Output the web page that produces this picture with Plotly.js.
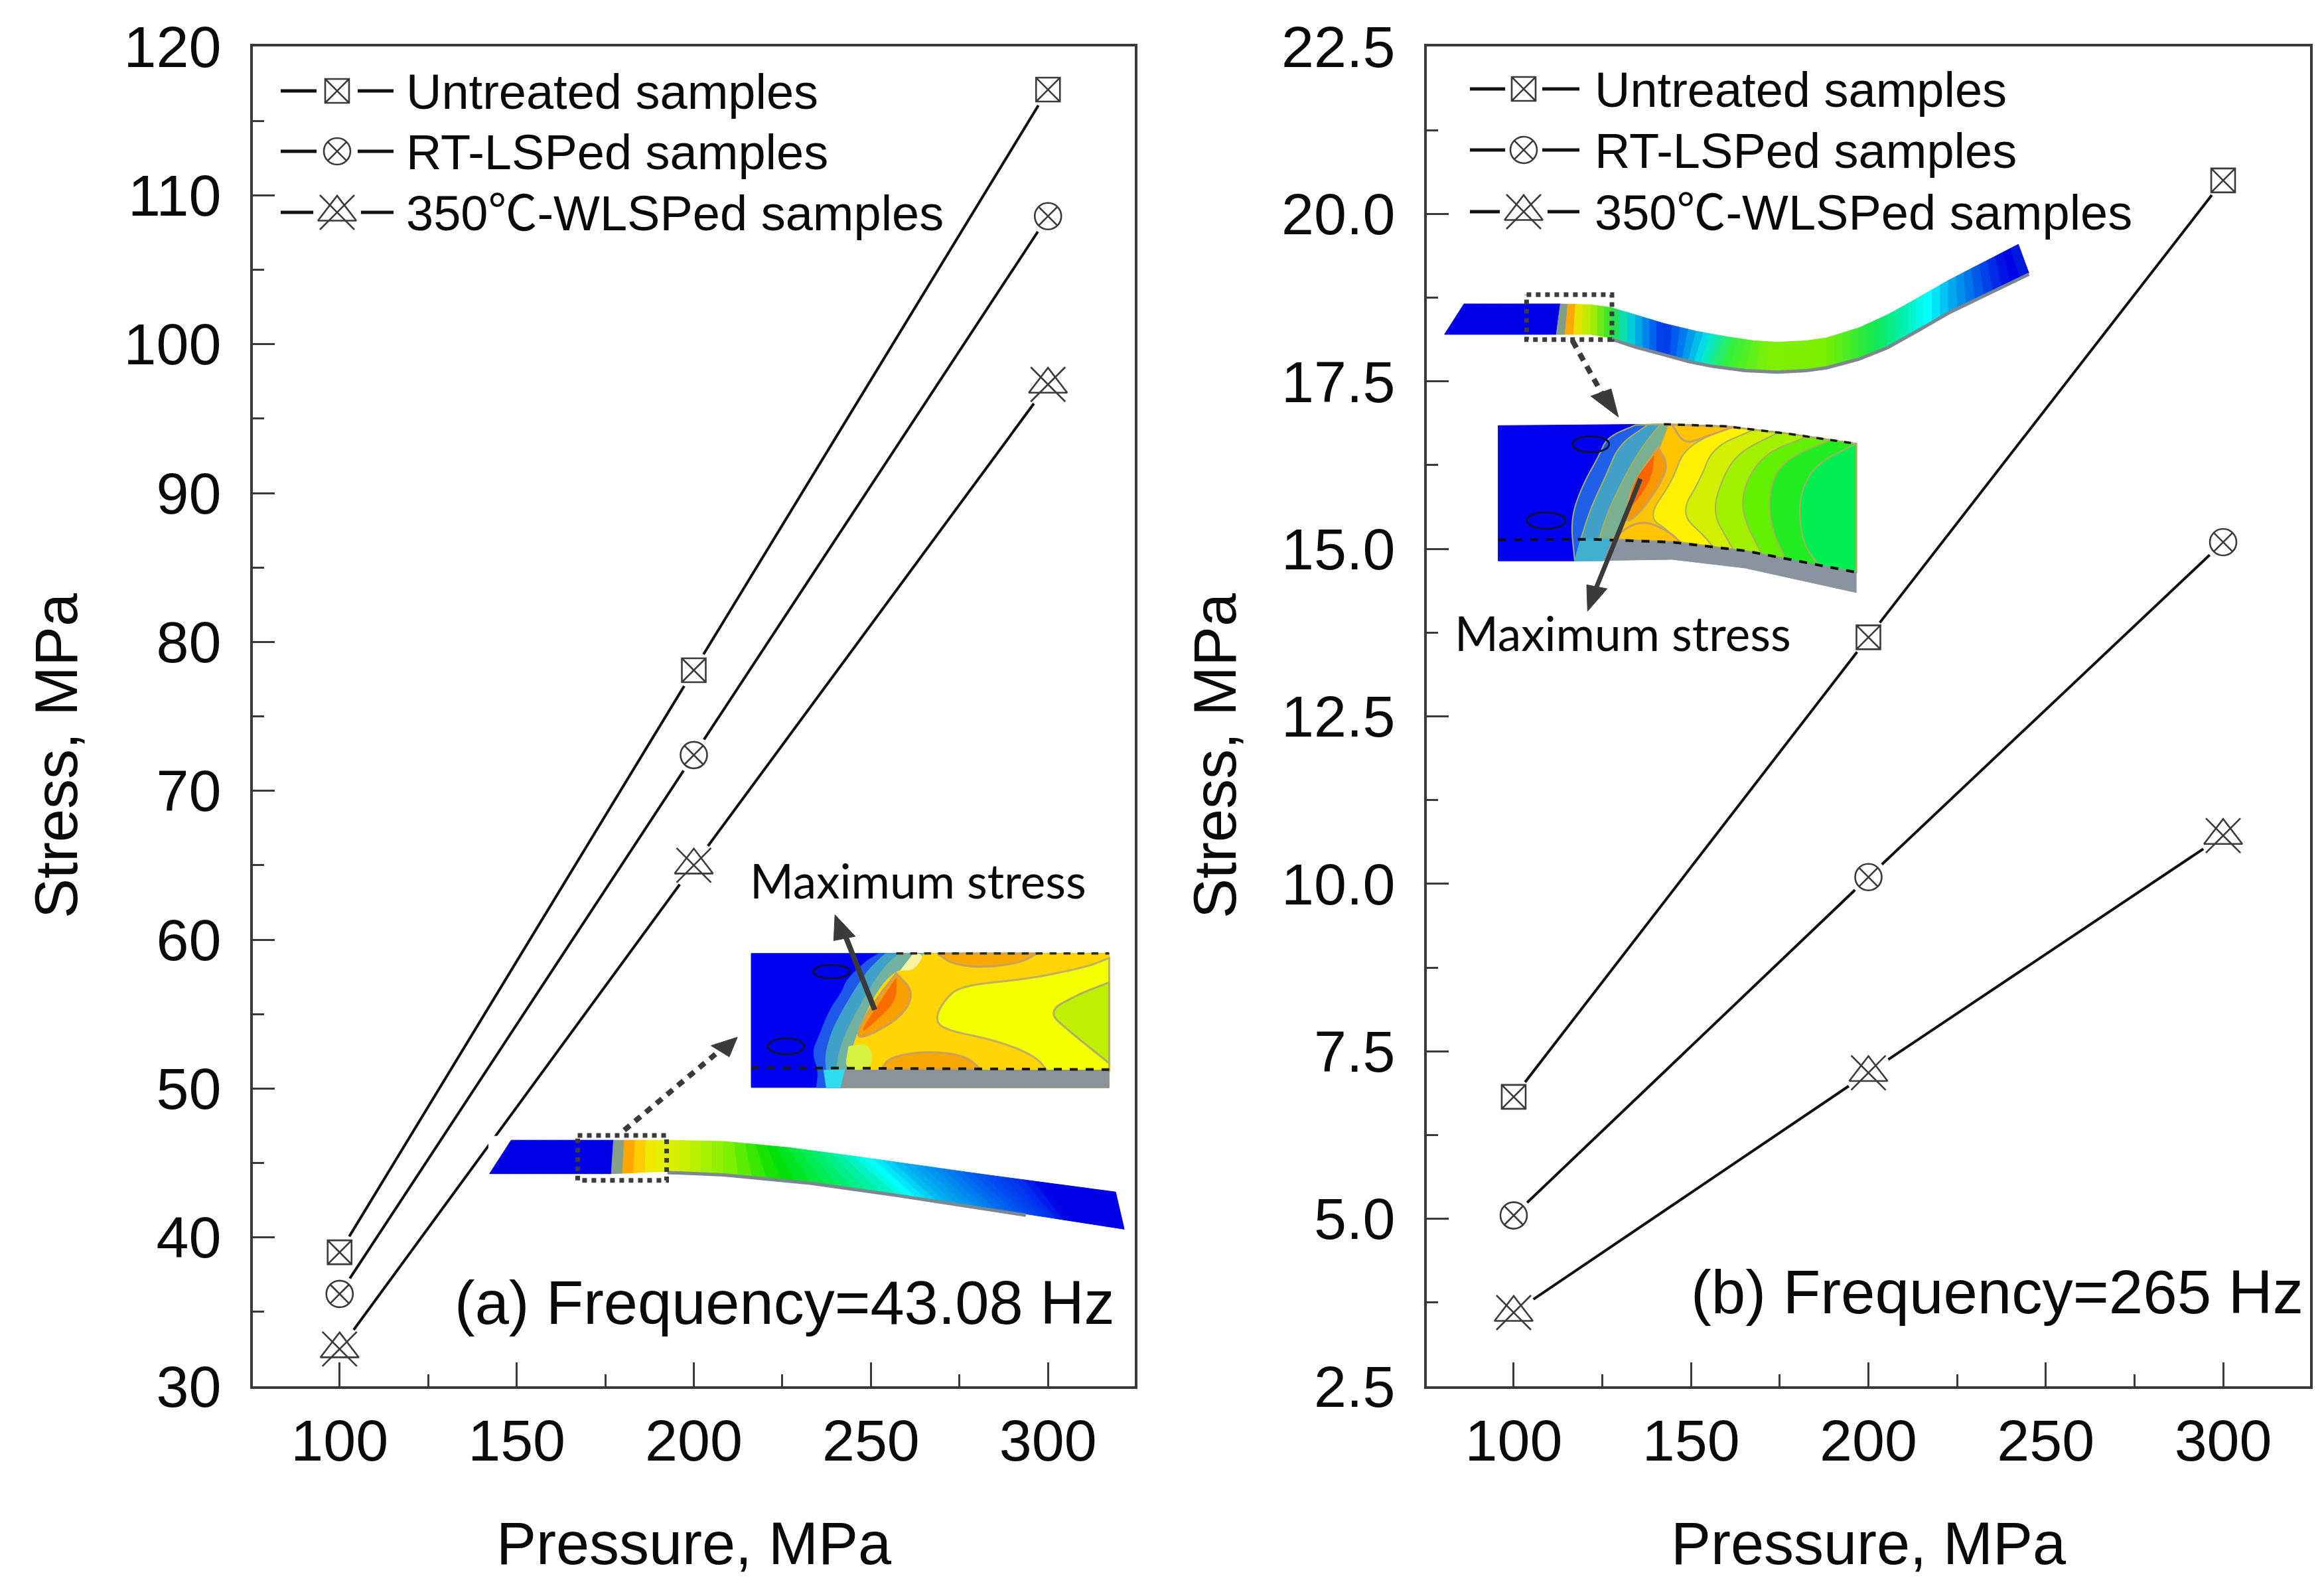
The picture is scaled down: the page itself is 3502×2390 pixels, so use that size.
<!DOCTYPE html>
<html>
<head>
<meta charset="utf-8">
<script src="https://cdn.plot.ly/plotly-3.0.1.min.js"></script>
<style>body{margin:0;background:#fff}</style>
</head>
<body>
<div id="chart"></div>
<script>
const W = 3502, H = 2390;

// values
const pressure = [100, 200, 300];
const untreatedA = [39.0, 78.1, 117.1];
const rtLspA = [36.2, 72.4, 108.6];
const wlspA = [32.5, 65.0, 97.3];
const untreatedB = [6.82, 13.68, 20.5];
const rtLspB = [5.05, 10.1, 15.1];
const wlspB = [3.6, 7.18, 10.72];
const seriesNames = ['Untreated samples', 'RT-LSPed samples', '350℃-WLSPed samples'];

const FONT = "'Liberation Sans','Noto Sans CJK SC',sans-serif";
const INK = '#3a3a3a';
const BLUE = '#0000e6';

var traces = [];
var shapes = [];
var notes = [];

// line first, then a white disc for the gap, then the symbol on top
function addSeries(xa, ya, y) {
    traces.push({x: pressure, y: y, xaxis: xa, yaxis: ya, showlegend: false, hoverinfo: 'skip',
        mode: 'lines', line: {color: '#111', width: 4}});
}
function addSymbols(xa, ya, x, y, kind) {
    let base = {x: x, y: y, xaxis: xa, yaxis: ya, mode: 'markers', showlegend: false, hoverinfo: 'skip'};
    let edge = {color: INK, width: 2.6};
    let disc = kind == 2 ? 72 : 56;
    traces.push(Object.assign({}, base, {marker: {symbol: 'circle', size: disc, color: '#fff'}}));
    if (kind == 0) {
        traces.push(Object.assign({}, base, {marker: {symbol: 'square-x-open', size: 36, line: edge, color: INK}}));
    } else if (kind == 1) {
        traces.push(Object.assign({}, base, {marker: {symbol: 'circle-x-open', size: 40, line: edge, color: INK}}));
    } else {
        traces.push(Object.assign({}, base, {marker: {symbol: 'triangle-up-open', size: 50, line: edge, color: INK}}));
        traces.push(Object.assign({}, base, {marker: {symbol: 'x-thin-open', size: 52, line: edge, color: INK}}));
    }
}

[[untreatedA, 0], [rtLspA, 1], [wlspA, 2]].forEach(d => addSeries('x', 'y', d[0]));
[[untreatedB, 0], [rtLspB, 1], [wlspB, 2]].forEach(d => addSeries('x2', 'y2', d[0]));
[[untreatedA, 0], [rtLspA, 1], [wlspA, 2]].forEach(d => addSymbols('x', 'y', pressure, d[0], d[1]));
[[untreatedB, 0], [rtLspB, 1], [wlspB, 2]].forEach(d => addSymbols('x2', 'y2', pressure, d[0], d[1]));

function pageText(x, y, text, size, anchor, family, angle) {
    return {x: x, y: y, xref: 'x3', yref: 'y3', text: text, showarrow: false, xanchor: anchor, yanchor: 'middle',
        textangle: angle || 0, font: {family: family || FONT, size: size, color: '#0a0a0a'}};
}
// legend keys live on a hidden page sized axis pair
function legendKeys(x0, x1, x2, x3, xm, xt, ys) {
    ys.forEach((yy, i) => {
        traces.push({x: [x0, x1, null, x2, x3], y: [yy, yy, null, yy, yy], xaxis: 'x3', yaxis: 'y3',
            mode: 'lines', line: {color: '#111', width: 5}, showlegend: false, hoverinfo: 'skip'});
        addSymbols('x3', 'y3', [xm], [yy], i);
        notes.push(pageText(xt, yy + 1, seriesNames[i], 74, 'left'));
    });
}
legendKeys(423, 477, 539, 593, 508, 610, [137, 228, 320]);
legendKeys(2215, 2271, 2324, 2380, 2296, 2401, [134, 226, 319]);

notes.push(pageText(85, 1139, 'Stress, MPa', 90, 'center', FONT, -90));
notes.push(pageText(1831, 1139, 'Stress, MPa', 90, 'center', FONT, -90));
notes.push(pageText(683, 1963, '(a) Frequency=43.08 Hz', 92, 'left'));
notes.push(pageText(2546, 1947, '(b) Frequency=265 Hz', 92.5, 'left'));
notes.push(pageText(1128, 1326, 'Maximum stress', 71, 'left', 'Lato'));
notes.push(pageText(2190, 953, 'Maximum stress', 71, 'left', 'Lato'));

// --- FE contour insets, sketched with shapes. Coordinates are in crop space, the mapper takes them to the page
function mapper(ox, oy, sx, sy) {
    return p => [ox + p[0] / sx, oy + p[1] / sy];
}
function pathOf(map, pts) {
    return pts.map((p, i) => {
        let q = map(p);
        return (i ? 'L' : 'M') + q[0].toFixed(1) + ',' + q[1].toFixed(1);
    }).join(' ');
}
// corner cutting, keeps the end points of the run
function smooth(pts) {
    let out = pts;
    for (let r = 0; r < 3; r++) {
        let next = [out[0]];
        for (let i = 0; i < out.length - 1; i++) {
            let a = out[i], b = out[i + 1];
            next.push([a[0] * 0.75 + b[0] * 0.25, a[1] * 0.75 + b[1] * 0.25]);
            next.push([a[0] * 0.25 + b[0] * 0.75, a[1] * 0.25 + b[1] * 0.75]);
        }
        next.push(out[out.length - 1]);
        out = next;
    }
    return out;
}
function poly(map, pts, fill, lineColor, lineWidth) {
    shapes.push({type: 'path', xref: 'x3', yref: 'y3', layer: 'above', path: pathOf(map, pts) + ' Z', fillcolor: fill,
        line: {color: lineColor || fill, width: lineWidth === undefined ? 1 : lineWidth}});
}
function polyline(map, pts, color, width, dash) {
    shapes.push({type: 'path', xref: 'x3', yref: 'y3', layer: 'above', path: pathOf(map, pts),
        line: {color: color, width: width, dash: dash || 'solid'}});
}
function ring(map, c, rx, ry) {
    let a = map([c[0] - rx, c[1] - ry]), b = map([c[0] + rx, c[1] + ry]);
    shapes.push({type: 'circle', xref: 'x3', yref: 'y3', layer: 'above', x0: a[0], y0: a[1], x1: b[0], y1: b[1],
        line: {color: '#101040', width: 3}});
}
function hexToRgb(h) {
    return [parseInt(h.substr(1, 2), 16), parseInt(h.substr(3, 2), 16), parseInt(h.substr(5, 2), 16)];
}
function stopColor(stops, x) {
    if (x <= stops[0][0]) return stops[0][1];
    for (let i = 1; i < stops.length; i++) {
        if (x <= stops[i][0]) {
            let f = (x - stops[i - 1][0]) / (stops[i][0] - stops[i - 1][0]);
            let a = hexToRgb(stops[i - 1][1]), b = hexToRgb(stops[i][1]);
            return 'rgb(' + a.map((v, k) => Math.round(v + (b[k] - v) * f)).join(',') + ')';
        }
    }
    return stops[stops.length - 1][1];
}
// beam is a strip between paired top and bottom points, cut into small coloured quads
function beam(map, top, bot, stops, step) {
    for (let i = 0; i < top.length - 1; i++) {
        let n = Math.max(1, Math.round((top[i + 1][0] - top[i][0]) / step));
        for (let k = 0; k < n; k++) {
            let f0 = k / n, f1 = (k + 1) / n;
            let lerp = (a, b, f) => [a[0] + (b[0] - a[0]) * f, a[1] + (b[1] - a[1]) * f];
            let t0 = lerp(top[i], top[i + 1], f0), t1 = lerp(top[i], top[i + 1], f1);
            let b0 = lerp(bot[i], bot[i + 1], f0), b1 = lerp(bot[i], bot[i + 1], f1);
            poly(map, [t0, t1, b1, b0], stopColor(stops, (t0[0] + t1[0] + b0[0] + b1[0]) / 4));
        }
    }
}
function arrowHead(map, tip, base, half, color) {
    let dx = base[0] - tip[0], dy = base[1] - tip[1], len = Math.hypot(dx, dy);
    let nx = -dy / len * half, ny = dx / len * half;
    poly(map, [tip, [base[0] + nx, base[1] + ny], [base[0] - nx, base[1] - ny]], color);
}

// panel a inset
const mapA = mapper(700, 1260, 1.537, 2.178);
poly(mapA, [[56, 985], [112, 985], [112, 1030], [56, 1030]], '#fff');
beam(mapA,
    [[108, 998], [345, 998], [470, 998], [600, 1002], [750, 1022], [900, 1050], [1200, 1110], [1508, 1168]],
    [[58, 1108], [340, 1108], [470, 1100], [600, 1108], [800, 1135], [1000, 1175], [1300, 1240], [1528, 1290]],
    [[60, BLUE], [340, BLUE], [352, '#70a0a0'], [372, '#ff9a00'], [400, '#ffc400'], [440, '#eef000'], [520, '#c4f000'],
     [620, '#78f000'], [720, '#00e000'], [830, '#00ee60'], [920, '#00f0b0'], [985, '#00ffff'], [1060, '#00b4f0'],
     [1130, '#0090f0'], [1230, '#0058f0'], [1320, '#0030f0'], [1370, BLUE], [1530, BLUE]], 24);
polyline(mapA, [[470, 1104], [600, 1112], [800, 1139], [1000, 1179], [1300, 1244]], '#7c8790', 5);
polyline(mapA, [[262, 982], [468, 982], [468, 1130], [262, 1130], [262, 982]], '#3c3c3c', 7, 'dot');
polyline(mapA, [[370, 965], [590, 705]], INK, 8, '11px,10px');
arrowHead(mapA, [632, 660], [592, 706], 28, INK);

poly(mapA, [[664, 385], [1493, 385], [1493, 825], [664, 825]], '#0000f0');
const wavesA = [
    ['#1f58e8', [[960, 385], [930, 410], [885, 470], [875, 510], [845, 570], [820, 660], [805, 710], [820, 770], [815, 825]]],
    ['#3fa0c8', [[975, 385], [940, 430], [910, 490], [880, 560], [850, 640], [835, 720], [838, 770], [845, 825]]],
    ['#72b0a0', [[1005, 385], [965, 440], [930, 520], [895, 610], [870, 690], [860, 770], [860, 825]]],
    ['#ffd400', [[1065, 385], [1030, 430], [990, 450], [950, 520], [905, 660], [885, 770], [885, 825]]]
];
wavesA.forEach(w => poly(mapA, smooth(w[1]).concat([[1493, 825], [1493, 385]]), w[0]));
poly(mapA, smooth([[1040, 385], [1065, 390], [1040, 440], [1010, 440]]), '#f4f4a0');
poly(mapA, smooth([[1493, 400], [1440, 430], [1300, 470], [1150, 490], [1110, 540], [1090, 600], [1110, 635], [1230, 670], [1320, 720], [1350, 770]]).concat([[1493, 770]]), '#f4ff00', '#c0b060', 3);
poly(mapA, smooth([[1493, 480], [1420, 520], [1350, 575], [1400, 640], [1493, 745]]), '#bef000', '#b0b060', 3);
poly(mapA, smooth([[1095, 385], [1130, 420], [1200, 432], [1290, 415], [1325, 385]]), '#f8a800', '#c8a060', 3);
poly(mapA, smooth([[965, 765], [985, 725], [1070, 705], [1160, 720], [1195, 765]]), '#f8a800', '#c8a060', 3);
poly(mapA, smooth([[1000, 450], [1040, 510], [1020, 580], [960, 640], [900, 670], [940, 560], [1000, 450]]), '#f8a000', '#c8a060', 3);
poly(mapA, smooth([[1000, 465], [1000, 540], [950, 610], [915, 650], [950, 570], [1000, 465]]), '#f86c00');
poly(mapA, smooth([[890, 690], [940, 680], [945, 765], [880, 770], [890, 690]]), '#d8f040');
poly(mapA, [[845, 768], [1493, 768], [1493, 825], [860, 825]], '#8a9498');
poly(mapA, [[832, 768], [880, 768], [870, 825], [838, 825]], '#30dcf0');
ring(mapA, [850, 445], 42, 22);
ring(mapA, [745, 690], 42, 26);
polyline(mapA, [[1000, 385], [1493, 385]], '#2a2a1a', 3.5, 'dash');
polyline(mapA, [[664, 760], [1493, 766]], '#1a1a10', 4, 'dash');
polyline(mapA, [[950, 570], [880, 320]], INK, 8);
arrowHead(mapA, [858, 258], [880, 336], 26, INK);

// panel b inset
const mapB = mapper(2140, 340, 1.633, 2.306);
beam(mapB,
    [[108, 272], [345, 272], [420, 275], [470, 285], [530, 310], [600, 340], [680, 367], [750, 385], [820, 400], [880, 405], [950, 400], [1000, 390], [1080, 355], [1150, 310], [1220, 255], [1300, 190], [1472, 65]],
    [[60, 378], [335, 378], [420, 378], [470, 390], [530, 418], [600, 445], [660, 468], [720, 485], [800, 500], [880, 505], [950, 500], [1000, 490], [1080, 460], [1150, 420], [1220, 365], [1300, 300], [1498, 165]],
    [[60, BLUE], [335, BLUE], [348, '#70a0a0'], [362, '#ff8c00'], [385, '#f0e000'], [420, '#b0f000'], [470, '#30e030'],
     [510, '#00e0d0'], [550, '#0090f0'], [600, '#0030e8'], [640, '#0070f0'], [700, '#00e8e0'], [760, '#30f040'],
     [860, '#80f000'], [1000, '#78f000'], [1120, '#10e850'], [1190, '#00f0b0'], [1250, '#00ffff'], [1310, '#00a8f0'],
     [1380, '#0050e8'], [1450, BLUE], [1500, '#0030d0']], 20);
polyline(mapB, [[470, 394], [530, 422], [600, 449], [660, 472], [720, 489], [800, 504], [880, 509], [950, 504], [1000, 494], [1080, 464], [1150, 424], [1220, 369], [1300, 304], [1498, 169]], '#7c8790', 5);
polyline(mapB, [[262, 240], [472, 240], [472, 396], [262, 396], [262, 240]], '#3c3c3c', 7, 'dot');
polyline(mapB, [[375, 400], [450, 590]], INK, 8, '12px,10px');
arrowHead(mapB, [488, 665], [445, 580], 28, INK);

poly(mapB, [[192, 695], [600, 690], [750, 697], [900, 722], [1073, 758], [1073, 1205], [800, 1130], [620, 1100], [420, 1090], [380, 1165], [192, 1165]], '#0000f0');
const bandTop = [[600, 690], [750, 697], [900, 722], [1073, 758]];
const bandBot = [[1073, 1205], [800, 1130], [620, 1100], [470, 1094]];
const wavesB = [
    ['#2060e8', [[530, 693], [460, 735], [440, 800], [400, 900], [370, 1020], [380, 1160]]],
    ['#40a0c8', [[560, 692], [490, 760], [460, 860], [420, 980], [395, 1090]]],
    ['#78b090', [[590, 692], [545, 770], [500, 880], [460, 1000], [440, 1090]]],
    ['#ffc400', [[610, 692], [590, 770], [550, 880], [505, 1000], [480, 1090]]],
    ['#fff000', [[760, 700], [650, 770], [620, 890], [560, 1010], [610, 1060], [640, 1100]]],
    ['#d0f000', [[820, 710], [720, 770], [690, 880], [640, 1000], [700, 1080], [720, 1115]]],
    ['#a0f000', [[880, 720], [780, 790], [740, 890], [720, 1000], [760, 1100], [770, 1125]]],
    ['#60f000', [[950, 735], [850, 790], [800, 890], [790, 1000], [840, 1140]]],
    ['#20ec20', [[1010, 745], [900, 810], [860, 900], [860, 1040], [900, 1160]]],
    ['#00ee50', [[1073, 758], [970, 830], [930, 950], [940, 1100], [980, 1180]]]
];
wavesB.forEach(w => {
    let bot = bandBot.filter(p => p[0] > w[1][w[1].length - 1][0]).reverse();
    let top = bandTop.filter(p => p[0] > w[1][0][0]).reverse();
    poly(mapB, smooth(w[1]).concat(bot).concat(top), w[0], '#a8b060', 2);
});
poly(mapB, smooth([[585, 770], [610, 830], [590, 900], [540, 1000], [500, 1040], [520, 900], [585, 770]]), '#f89800', '#c8a060', 3);
poly(mapB, smooth([[575, 800], [570, 880], [510, 1000], [525, 890], [575, 800]]), '#f86400');
poly(mapB, smooth([[620, 692], [650, 760], [700, 735], [770, 700]]), '#ffc400', '#c8a060', 3);
poly(mapB, smooth([[470, 1090], [540, 1020], [610, 1060], [640, 1100]]), '#ffc400', '#c8a060', 3);
poly(mapB, [[380, 1165], [395, 1090], [470, 1090], [620, 1100], [800, 1130], [1073, 1205], [1073, 1275], [800, 1190], [620, 1160]], '#8a94a0');
poly(mapB, [[380, 1165], [395, 1090], [470, 1090], [450, 1165]], '#40b0d0');
ring(mapB, [420, 760], 45, 28);
ring(mapB, [310, 1025], 48, 28);
polyline(mapB, [[600, 690], [750, 697], [900, 722], [1073, 758]], '#1a1a10', 3.5, 'dash');
polyline(mapB, [[192, 1092], [420, 1090], [620, 1100], [800, 1130], [1073, 1205]], '#101010', 4, 'dash');
polyline(mapB, [[542, 880], [430, 1270]], INK, 7);
arrowHead(mapB, [412, 1340], [435, 1255], 26, INK);

// --- axes
function xAxis(anchor, domain, title) {
    return {
        domain: domain, anchor: anchor, range: [75.5, 324.5], tick0: 100, dtick: 50, ticks: 'inside', ticklen: 36, tickwidth: 3,
        tickcolor: INK, showline: true, linecolor: INK, linewidth: 4, mirror: true, showgrid: false, zeroline: false,
        minor: {dtick: 25, tick0: 100, ticks: 'inside', ticklen: 18, tickwidth: 3, tickcolor: INK, showgrid: false},
        tickfont: {family: FONT, size: 88, color: '#0a0a0a'}, ticklabelstandoff: 2,
        title: {text: title, font: {family: FONT, size: 90, color: '#0a0a0a'}, standoff: 76}
    };
}
function yAxis(anchor, range, dtick, minorStep, fmt) {
    return {
        domain: [1 - 2089 / H, 1 - 70 / H], anchor: anchor, range: range, tick0: range[0], dtick: dtick, ticks: 'inside', ticklen: 33, tickwidth: 3,
        tickcolor: INK, showline: true, linecolor: INK, linewidth: 4, mirror: true, showgrid: false, zeroline: false,
        minor: {dtick: minorStep, ticks: 'inside', ticklen: 17, tickwidth: 3, tickcolor: INK, showgrid: false},
        tickfont: {family: FONT, size: 88, color: '#0a0a0a'}, tickformat: fmt, ticklabelstandoff: 26
    };
}

var layout = {
    width: W, height: H, autosize: false, showlegend: false,
    paper_bgcolor: '#fff', plot_bgcolor: 'rgba(0,0,0,0)',
    margin: {l: 0, r: 0, t: 0, b: 0, pad: 0},
    xaxis: xAxis('y', [381 / W, 1710 / W], 'Pressure, MPa'),
    yaxis: yAxis('x', [30, 120], 10, 5, 'd'),
    xaxis2: xAxis('y2', [2150 / W, 3481 / W], 'Pressure, MPa'),
    yaxis2: yAxis('x2', [2.5, 22.5], 2.5, 1.25, '.1f'),
    xaxis3: {domain: [0, 1], range: [0, W], visible: false, fixedrange: true, anchor: 'y3'},
    yaxis3: {domain: [0, 1], range: [H, 0], visible: false, fixedrange: true, anchor: 'x3'},
    shapes: shapes,
    annotations: notes
};

Plotly.newPlot('chart', traces, layout, {displayModeBar: false, staticPlot: true});
</script>
</body>
</html>
